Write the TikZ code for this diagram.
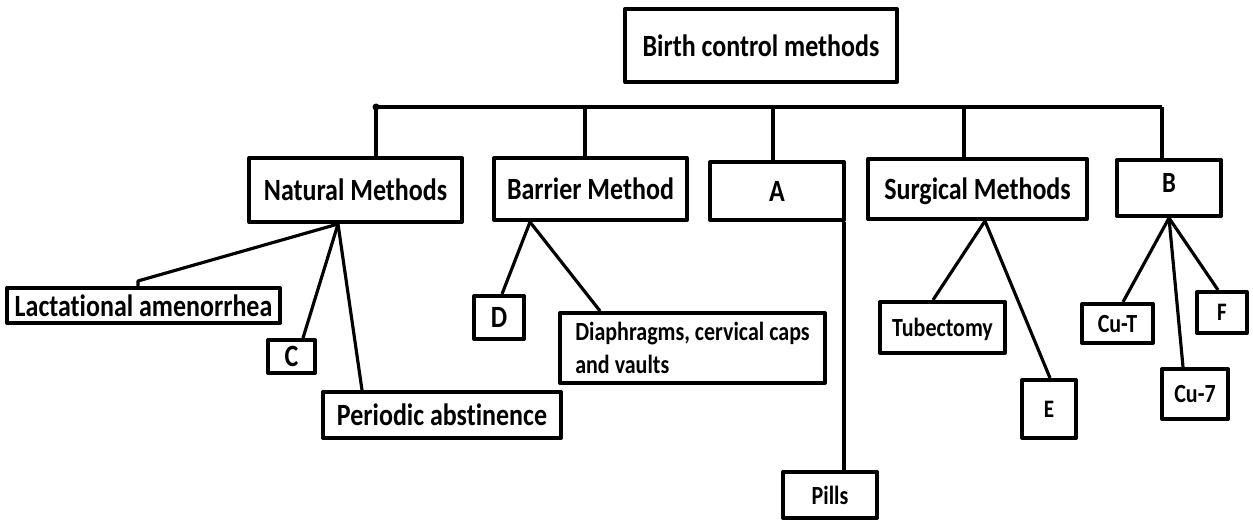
\documentclass[tikz,border=0pt]{standalone}
\usepackage{fontspec}
\setmainfont{Carlito}[Ligatures=NoCommon, FakeStretch=0.84]
\begin{document}
\begin{tikzpicture}[x=0.02cm, y=-0.02cm,
                    line width=1.8pt,
                    line join=round]
    \tikzstyle{bigbox}=[draw, line width=2.3pt, inner sep=0pt, text depth=0pt, font=\bfseries\fontsize{17.6}{20}\selectfont]
    \tikzstyle{midbox}=[bigbox, font=\bfseries\fontsize{16.7}{19}\selectfont]
    \tikzstyle{smallbox}=[bigbox, font=\bfseries\fontsize{14.9}{18.7}\selectfont]
    \tikzstyle{tinybox}=[bigbox, font=\bfseries\fontsize{14.3}{16}\selectfont]

    \fill[white] (0,0) rectangle (1253,520);
    \useasboundingbox (0,0) rectangle (1253,520);

    \node[bigbox, minimum width=5.44cm, minimum height=1.46cm] (root) at (761,45.5) {Birth control methods};

    \node[bigbox, minimum width=4.26cm, minimum height=1.28cm] (nat) at (355.5,190) {Natural Methods};
    \node[bigbox, minimum width=3.86cm, minimum height=1.24cm] (bar) at (590.5,189) {Barrier Method};
    \node[bigbox, minimum width=2.68cm, minimum height=1.16cm] (a) at (777,191) {A\hspace{0.6cm}};
    \node[bigbox, minimum width=4.38cm, minimum height=1.2cm] (surg) at (977.5,189) {Surgical Methods};
    \node[midbox, minimum width=2.08cm, minimum height=1.12cm] (b) at (1169,188) {\raisebox{0.2cm}{B}};

    \node[bigbox, minimum width=5.46cm, minimum height=0.7cm] (lact) at (143.5,305.5) {Lactational amenorrhea};
    \node[bigbox, minimum width=0.94cm, minimum height=0.66cm] (c) at (291.5,356.5) {C};
    \node[bigbox, minimum width=4.76cm, minimum height=0.92cm] (per) at (442,415) {Periodic abstinence};
    \node[bigbox, minimum width=1cm, minimum height=0.86cm] (d) at (499,317.5) {D};
    \node[smallbox, minimum width=5.3cm, minimum height=1.4cm, align=left] (dia) at (692.5,348) {Diaphragms, cervical caps\\and vaults};
    \node[smallbox, minimum width=1.88cm, minimum height=0.92cm] (pills) at (830,495) {Pills};
    \node[smallbox, minimum width=2.5cm, minimum height=1.02cm] (tub) at (942.5,327.5) {Tubectomy};
    \node[tinybox, minimum width=1.08cm, minimum height=1.16cm] (e) at (1049,409) {E};
    \node[smallbox, minimum width=1.42cm, minimum height=0.78cm] (cut) at (1117.5,323.5) {Cu-T};
    \node[tinybox, minimum width=1cm, minimum height=0.82cm] (f) at (1222,312.5) {F};
    \node[smallbox, minimum width=1.32cm, minimum height=1cm] (cu7) at (1195,394) {Cu-7};

    \coordinate (t1) at (376,107);
    \coordinate (t2) at (585,107);
    \coordinate (t3) at (773,107);
    \coordinate (t4) at (964,107);
    \coordinate (t5) at (1162,107);
    \draw (t1) -- (t5);
    \fill (t1) circle (0.07cm);
    \draw (t1) -- (t1 |- nat.north);
    \draw (t2) -- (t2 |- bar.north);
    \draw (t3) -- (t3 |- a.north);
    \draw (t4) -- (t4 |- surg.north);
    \draw (t5) -- (t5 |- b.north);

    \coordinate (natv) at ([xshift=-0.35cm]nat.south);
    \draw (natv) -- ([xshift=-0.11cm, yshift=0.1cm]lact.north) -- ([xshift=-0.11cm]lact.north);
    \draw (natv) -- ([xshift=0.23cm]c.north);
    \draw (natv) -- ([xshift=0.82cm]per.north west);

    \coordinate (barv) at ([xshift=-1.21cm]bar.south);
    \draw (barv) -- ([xshift=0.06cm]d.north);
    \draw (barv) -- ([xshift=0.84cm]dia.north west);

    \coordinate (aleg) at ([xshift=-0.04cm]a.south east);
    \draw (aleg) -- (aleg |- pills.north);

    \coordinate (surgv) at ([xshift=0.15cm]surg.south);
    \draw (surgv) -- ([xshift=-0.19cm]tub.north);
    \draw (surgv) -- ([xshift=0.02cm]e.north);

    \coordinate (bv) at (b.south);
    \draw (bv) -- ([xshift=0.11cm]cut.north);
    \draw (bv) -- ([xshift=-0.24cm]cu7.north);
    \draw (bv) -- ([xshift=-0.08cm]f.north);
\end{tikzpicture}
\end{document}
